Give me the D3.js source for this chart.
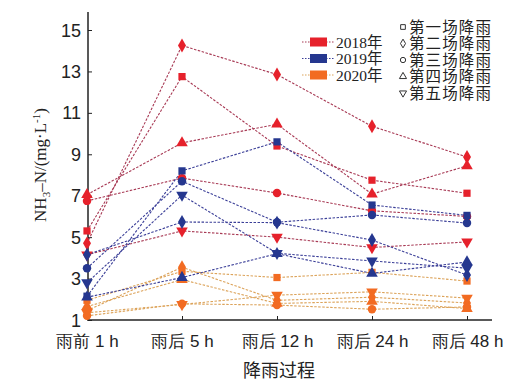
<!DOCTYPE html>
<html><head><meta charset="utf-8">
<script src="https://cdn.jsdelivr.net/npm/d3@7/dist/d3.min.js"></script>
<style>
html,body{margin:0;padding:0;background:#fff;}
svg{display:block;font-family:"Liberation Serif","Noto Sans CJK SC",serif;}
</style></head>
<body><svg id="c" width="528" height="388"></svg>
<script>
const categories = ["雨前 1 h", "雨后 5 h", "雨后 12 h", "雨后 24 h", "雨后 48 h"];
const years = ["2018年", "2019年", "2020年"];
const rains = ["第一场降雨", "第二场降雨", "第三场降雨", "第四场降雨", "第五场降雨"];
const yTicks = [1, 3, 5, 7, 9, 11, 13, 15];
// each row: one rain event (第一场 … 第五场), values at the 5 time points
const values2018 = [
  [5.3, 12.75, 9.4, 7.75, 7.12],
  [4.7, 14.25, 12.85, 10.35, 8.87],
  [6.75, 7.85, 7.13, 6.27, 6.0],
  [7.05, 9.55, 10.45, 7.08, 8.44],
  [4.15, 5.3, 5.0, 4.5, 4.77]
];
const values2019 = [
  [2.15, 8.2, 9.6, 6.55, 6.05],
  [4.15, 5.73, 5.7, 4.86, 3.17],
  [3.5, 7.7, 5.72, 6.07, 5.68],
  [2.1, 3.05, 4.2, 3.25, 3.8],
  [2.8, 7.03, 4.22, 3.85, 3.5]
];
const values2020 = [
  [1.95, 3.35, 3.05, 3.3, 2.88],
  [1.45, 3.55, 1.95, 2.1, 1.82],
  [1.2, 1.78, 1.72, 1.52, 1.63],
  [1.65, 2.95, 1.8, 1.9, 1.55],
  [1.35, 1.75, 2.2, 2.36, 2.06]
];

const svg = d3.select("#c");
const x = d3.scaleLinear().domain([0, 4]).range([87, 467]);
const y = d3.scaleLinear().domain([1, 15]).range([320, 30]);

const markerCol = {"2018年": "#e6212b", "2019年": "#25378f", "2020年": "#f26b22"};
const lineCol = {"2018年": "#a83a55", "2019年": "#3b3f98", "2020年": "#dca35a"};
const symTypes = [d3.symbolSquare, d3.symbolDiamond, d3.symbolCircle, d3.symbolTriangle, d3.symbolTriangle];
const symSize = [52, 56, 56, 58, 58];

// axes
const yAxis = d3.axisLeft(y).tickValues(yTicks).tickSizeInner(-4).tickSizeOuter(0).tickPadding(7);
const gy = svg.append("g").attr("transform", "translate(88,0)").call(yAxis);
gy.select(".domain").remove();
gy.selectAll("text").attr("font-size", 18).attr("fill", "#222").attr("dy", "0.34em");
gy.selectAll("line").attr("stroke", "#222");
svg.append("line").attr("x1", 88).attr("x2", 88).attr("y1", 12).attr("y2", 320.5).attr("stroke", "#222").attr("stroke-width", 1.5);

const xAxis = d3.axisBottom(x).tickValues([0, 1, 2, 3, 4]).tickFormat(i => categories[i]).tickSizeInner(-4).tickSizeOuter(0).tickPadding(14);
const gx = svg.append("g").attr("transform", "translate(0,320)").call(xAxis);
gx.select(".domain").remove();
gx.selectAll("text").attr("font-size", 17).attr("fill", "#222").attr("dy", "0.75em");
gx.selectAll("line").attr("stroke", "#222");
svg.append("line").attr("x1", 87.25).attr("x2", 492).attr("y1", 320).attr("y2", 320).attr("stroke", "#222").attr("stroke-width", 1.5);

// titles
svg.append("text").attr("x", 279).attr("y", 377).attr("text-anchor", "middle").attr("font-size", 18).attr("fill", "#222").text("降雨过程");
const yl = svg.append("text").attr("transform", "translate(46,165) rotate(-90)").attr("text-anchor", "middle").attr("font-size", 17).attr("fill", "#222");
yl.append("tspan").text("NH");
yl.append("tspan").attr("font-size", 11).attr("dy", 4).text("3");
yl.append("tspan").attr("dy", -4).text("–N/(mg·L");
yl.append("tspan").attr("font-size", 11).attr("dy", -6).text("-1");
yl.append("tspan").attr("dy", 6).text(")");

// series
const all = [["2018年", values2018], ["2020年", values2020], ["2019年", values2019]];
const line = d3.line().x((d, i) => x(i)).y(d => y(d));
all.forEach(([yr, rows]) => {
  rows.forEach(row => {
    svg.append("path").datum(row).attr("d", line).attr("fill", "none")
      .attr("stroke", lineCol[yr]).attr("stroke-width", 1.1).attr("stroke-dasharray", "2.5,1.5");
  });
});
all.forEach(([yr, rows]) => {
  rows.forEach((row, r) => {
    svg.append("g").selectAll("path").data(row).join("path")
      .attr("d", d3.symbol().type(symTypes[r]).size(symSize[r]))
      .attr("transform", (d, i) => `translate(${x(i)},${y(d)})${r === 4 ? " rotate(180)" : ""}`)
      .attr("fill", markerCol[yr]);
  });
});

// legend: years
years.forEach((yr, i) => {
  const cy = 42 + i * 16.5;
  svg.append("line").attr("x1", 302).attr("x2", 335).attr("y1", cy).attr("y2", cy)
    .attr("stroke", lineCol[yr]).attr("stroke-width", 1.1).attr("stroke-dasharray", "1.5,1.5");
  svg.append("rect").attr("x", 310).attr("y", cy - 4.5).attr("width", 17).attr("height", 9).attr("fill", markerCol[yr]);
  svg.append("text").attr("x", 336).attr("y", cy + 5.5).attr("font-size", 15.5).attr("fill", "#222").text(yr);
});
// legend: rain events
rains.forEach((rn, i) => {
  const cy = 27 + i * 16.5;
  svg.append("path").attr("d", d3.symbol().type(symTypes[i]).size(22))
    .attr("transform", `translate(403,${cy})${i === 4 ? " rotate(180)" : ""}`)
    .attr("fill", "none").attr("stroke", "#333").attr("stroke-width", 1);
  svg.append("text").attr("x", 409).attr("y", cy + 5.5).attr("font-size", 15.5).attr("fill", "#222")
    .attr("textLength", 82).attr("lengthAdjust", "spacing").text(rn);
});
</script></body></html>
